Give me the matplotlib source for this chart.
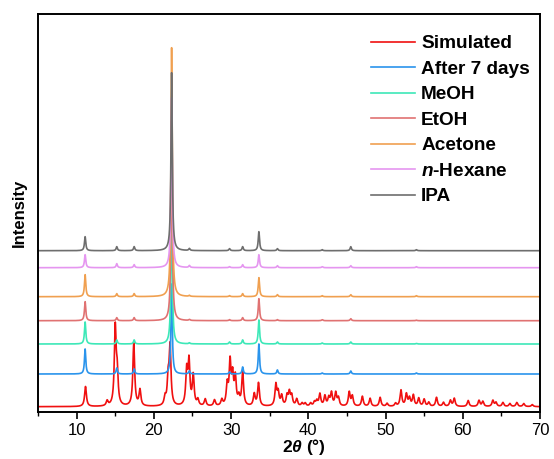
import numpy as np
import matplotlib.pyplot as plt

plt.rcParams['font.family'] = 'Liberation Sans'
plt.rcParams['mathtext.fontset'] = 'custom'
plt.rcParams['mathtext.rm'] = 'Liberation Sans:bold'
plt.rcParams['mathtext.it'] = 'Liberation Sans:bold:italic'
plt.rcParams['mathtext.bf'] = 'Liberation Sans:bold'

### ---------------- donnees ---------------- ###
# Pic simule : position 2theta et intensite (unites arbitraires)
sim_pos = [11.15, 13.95, 15.0, 15.25, 17.4, 18.2, 21.45, 21.85, 22.1, 24.25, 24.55,
           25.1, 25.7, 26.65, 27.85, 28.8, 29.5, 29.87, 30.2, 30.55, 31.0, 31.5,
           33.0, 33.55, 35.8, 36.1, 36.55, 37.25, 37.55, 37.85, 38.5, 39.2, 39.6,
           40.3, 40.8, 41.1, 41.5, 42.15, 42.65, 43.0, 43.55, 43.9, 45.3, 45.7,
           47.0, 48.0, 49.3, 50.2, 51.3, 52.0, 52.7, 53.1, 53.6, 54.3, 55.0, 55.6,
           56.6, 57.5, 58.4, 58.9, 60.7, 62.1, 62.6, 63.9, 64.3, 65.2, 66.1, 67.0,
           67.9, 69.0]
sim_int = [20, 5, 77, 30, 63, 16, 8, 25, 58, 34, 43,
           30, 6, 7, 6, 6, 20, 42, 28, 27, 8, 33,
           12, 23, 21, 13, 10, 10, 13, 10, 7, 3, 3,
           3, 4, 5, 12, 10, 8, 13, 13, 8, 14, 10,
           10, 8, 9, 3, 3, 16, 12, 8, 11, 8, 7, 4,
           9, 4, 6, 8, 6, 6, 5, 6, 4, 4, 3, 4,
           3, 2]

# Pics experimentaux (memes positions pour tous les echantillons)
exp_pos = [11.1, 15.2, 17.45, 22.3, 24.6, 29.8, 31.5, 33.6, 36.0, 41.8, 45.5, 54.0]
days7_int = [25, 6, 5, 90, 3, 2, 7, 30, 4, 1, 3, 1]
meoh_int = [22, 4, 4, 150, 1, 2, 4, 24, 2, 1, 2, 0.5]
etoh_int = [19, 3, 3, 200, 1, 1, 3, 22, 1, 1, 2, 0.5]
acetone_int = [22, 3, 3, 249, 1, 1, 3, 19, 2, 1, 2, 1]
hexane_int = [13, 4, 3, 170, 2, 1, 3, 13, 2, 1, 2, 1]
ipa_int = [14, 4, 4, 178, 2, 2, 4, 19, 2, 1, 4, 1]

labels = ['Simulated', 'After 7 days', 'MeOH', 'EtOH', 'Acetone',
          r'$n$-Hexane', 'IPA']
offsets = [0, 32.7, 62.7, 86, 110, 139, 156]
colors = ['#f01010', '#2a94ec', '#3de8b8', '#e07272', '#f0a050',
          '#e596f0', '#6e6e6e']


def profile(x, pos, inten, hw):
    """Somme de lorentziennes pour tracer le diffractogramme."""
    y = np.zeros_like(x)
    for p, h in zip(pos, inten):
        y += h / (1 + ((x - p) / hw) ** 2)
    return y


x = np.linspace(5, 70, 6501)
patterns = [profile(x, sim_pos, sim_int, 0.14)]
for inten in [days7_int, meoh_int, etoh_int, acetone_int, hexane_int, ipa_int]:
    patterns.append(profile(x, exp_pos, inten, 0.1))

fig = plt.figure(figsize=(5.54, 4.59), dpi=100)
ax = fig.add_axes([0.0686, 0.1024, 0.9061, 0.8671])

for y, off, c, lab in zip(patterns, offsets, colors, labels):
    ax.plot(x, y + off, color=c, lw=1.2, label=lab)

ax.set_xlim(5, 70)
ax.set_ylim(-5.3, 392.7)
ax.set_xticks([10, 20, 30, 40, 50, 60, 70])
ax.set_xticks(np.arange(5, 71, 5), minor=True)
ax.set_yticks([])
ax.tick_params(axis='x', which='major', direction='out', length=5, width=1.2,
               labelsize=12, pad=3)
ax.tick_params(axis='x', which='minor', direction='out', length=3, width=1.0)
for s in ax.spines.values():
    s.set_linewidth(1.4)

ax.set_xlabel(r'$2\theta$ (°)', fontsize=12.5, fontweight='bold', labelpad=-1,
              x=0.53)
ax.set_ylabel('Intensity', fontsize=12, fontweight='bold', labelpad=8)

ax.legend(loc='upper right', bbox_to_anchor=(1.014, 0.99), frameon=False,
          prop={'weight': 'bold', 'size': 13.7}, handlelength=2.3,
          labelspacing=0.43, handletextpad=0.33)

fig.savefig('out.png', dpi=100)
